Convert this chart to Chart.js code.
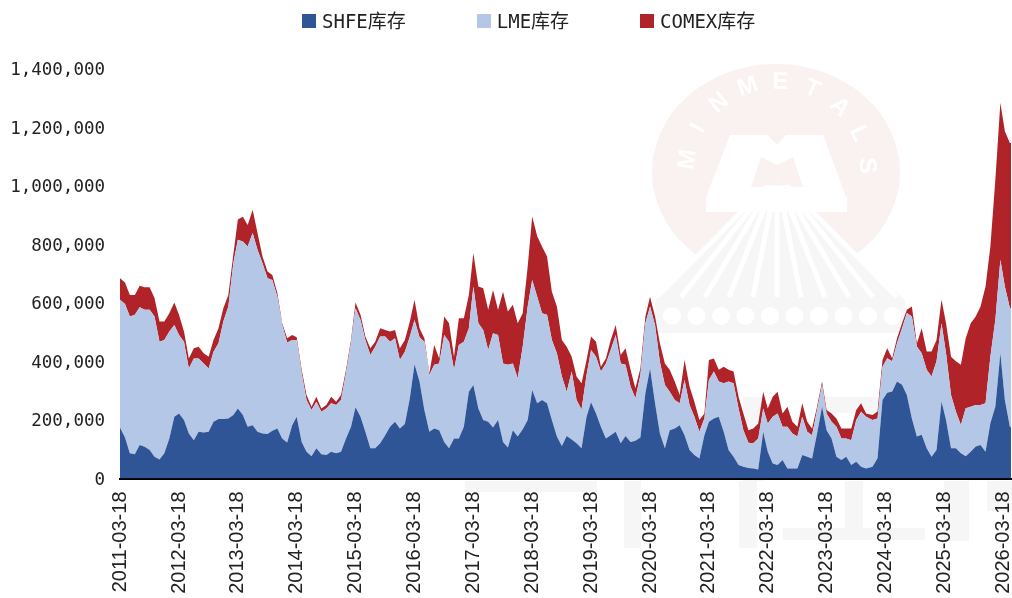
<!DOCTYPE html>
<html>
<head>
<meta charset="utf-8">
<script src="https://cdn.jsdelivr.net/npm/chart.js@4"></script>
<style>
	html, body { margin: 0; padding: 0; background: #fff; overflow: hidden; }
	#wrap { position: relative; width: 1012px; height: 598px; }
	#legend { position: absolute; left: 302px; top: 10px; display: flex; gap: 71px; font: 19px "DejaVu Sans Mono", "Noto Sans CJK SC"; color: #222; z-index: 2; }
	#legend div { display: flex; align-items: center; line-height: 22px; }
	#legend i { display: block; width: 14px; height: 14px; margin-right: 6px; }
</style>
</head>
<body>
<div id="wrap">
	<div id="legend"></div>
	<canvas id="stockChart" width="1012" height="598"></canvas>
</div>
<script>
// values in thousand tonnes
const shfe = [
	174,140,86,83,114,108,97,74,65,86,137,211,222,200,154,131,160,157,160,194,203,203,205,217,239,217,177,182,160,154,152,
	163,171,137,123,182,211,125,91,76,103,83,80,91,86,91,137,177,243,211,160,103,103,120,148,177,194,171,186,274,390,331,
	234,160,171,165,125,103,137,137,177,296,319,239,200,194,174,200,125,106,165,143,168,200,302,257,268,257,200,143,111,145,
	133,120,103,211,260,222,177,137,148,160,120,145,125,129,140,291,376,257,154,103,165,171,182,148,97,80,68,148,194,205,211,
	160,97,74,46,40,36,34,31,160,91,51,46,63,34,34,34,80,74,68,154,245,165,137,74,63,74,46,57,40,34,
	40,69,268,293,297,331,320,285,205,143,149,103,74,97,263,200,103,103,86,76,91,109,114,91,189,246,428,268,177,175
];
const lme = [
	436,456,467,476,471,468,479,479,402,387,365,313,268,267,222,279,250,236,216,239,259,333,382,518,576,592,615,656,621,581,532,
	515,450,387,341,291,262,234,177,158,159,145,159,166,165,177,222,285,338,330,313,319,347,365,337,290,285,234,247,211,151,151,
	233,193,217,228,365,364,234,319,290,217,337,291,307,245,322,290,268,282,228,199,282,387,376,364,296,302,273,285,237,151,
	232,148,133,142,179,194,188,256,291,330,273,243,189,145,213,239,211,267,245,216,131,97,75,188,154,131,92,57,142,160,120,
	165,234,251,193,125,86,86,106,79,97,160,176,114,143,120,109,131,86,80,80,74,57,57,103,74,63,85,143,188,177,
	160,136,114,118,103,131,193,280,348,308,279,268,274,303,267,228,182,126,97,164,154,142,137,166,227,296,319,388,405,405
];
const comex = [
	74,73,74,68,73,77,77,63,69,63,62,77,69,35,34,35,40,35,40,40,51,45,40,30,69,85,74,80,57,23,23,
	17,12,6,15,17,9,12,17,11,17,11,12,22,11,17,12,11,20,18,12,23,17,28,22,35,28,40,40,51,69,31,
	12,6,68,17,63,63,45,91,80,114,114,126,143,137,148,86,245,182,200,188,114,137,217,206,228,199,165,159,125,154,
	51,80,89,52,46,51,17,17,34,34,29,57,57,34,23,23,34,29,63,74,75,63,28,69,63,51,40,17,69,45,40,
	57,40,40,40,57,43,51,51,57,51,68,74,45,68,40,34,46,34,23,11,12,12,28,28,34,34,40,34,29,11,
	17,24,23,34,11,17,17,11,34,10,85,63,86,73,80,102,131,171,205,239,285,302,336,399,376,479,536,530,564,566
];
const seriesNames = [ 'SHFE库存', 'LME库存', 'COMEX库存' ];
const seriesColors = [ '#2F5597', '#B4C7E7', '#B02429' ];
const xTickLabels = [
	'2011-03-18', '2012-03-18', '2013-03-18', '2014-03-18', '2015-03-18', '2016-03-18', '2017-03-18', '2018-03-18',
	'2019-03-18', '2020-03-18', '2021-03-18', '2022-03-18', '2023-03-18', '2024-03-18', '2025-03-18', '2026-03-18'
];

// one date per sample, the last one is where the series stops
const dates = [];
for (let i = 0; i < 182; i++) {
	dates.push(Date.UTC(2011, 2 + i, i < 153 ? 18 : 28));
}
dates.push(Date.UTC(2026, 4, 5));

const toPoints = (values) => values.map((v, i) => ({ x: dates[i], y: v * 1000 }));

// legend
const legendBox = document.getElementById('legend');
seriesNames.forEach((name, i) => {
	const item = document.createElement('div');
	item.innerHTML = '<i style="background:' + seriesColors[i] + '"></i>' + name;
	legendBox.appendChild(item);
});

// faint company mark behind the chart
const watermark = {
	id: 'watermark',
	beforeDraw(chart) {
		const c = chart.ctx;
		c.save();

		c.fillStyle = '#faf1f1';
		c.beginPath();
		c.ellipse(776, 172, 124, 108, 0, 0, Math.PI * 2);
		c.fill();

		// the M
		c.fillStyle = '#fff';
		c.beginPath();
		c.moveTo(730, 135);
		c.lineTo(768, 135);
		c.lineTo(777, 145);
		c.lineTo(786, 135);
		c.lineTo(823, 135);
		c.lineTo(846, 197);
		c.lineTo(706, 197);
		c.closePath();
		c.fill();
		c.fillStyle = '#faf1f1';
		c.beginPath();
		c.moveTo(761, 157);
		c.lineTo(777, 165);
		c.lineTo(793, 157);
		c.lineTo(803, 187);
		c.lineTo(751, 187);
		c.closePath();
		c.fill();

		// letters round the ring
		const letters = 'MINMETALS';
		c.fillStyle = '#fff';
		c.font = 'bold 24px "Liberation Sans"';
		c.textAlign = 'center';
		c.textBaseline = 'middle';
		for (let i = 0; i < letters.length; i++) {
			const a = (-82 + i * 21) * Math.PI / 180;
			c.save();
			c.translate(777 + Math.sin(a) * 90, 172 - Math.cos(a) * 90);
			c.rotate(a);
			c.fillText(letters[i], 0, 0);
			c.restore();
		}

		// fan of rays and the base band
		c.fillStyle = '#f6f6f6';
		c.beginPath();
		c.moveTo(777, 180);
		c.lineTo(905, 300);
		c.lineTo(905, 333);
		c.lineTo(655, 333);
		c.lineTo(655, 300);
		c.closePath();
		c.fill();
		c.strokeStyle = '#fff';
		c.lineWidth = 5;
		for (let i = -5; i <= 5; i++) {
			c.beginPath();
			c.moveTo(777 + i * 2, 186);
			c.lineTo(777 + i * 24, 297);
			c.stroke();
		}
		c.fillStyle = '#fff';
		c.fillRect(706, 197, 141, 15);
		for (let i = 0; i < 10; i++) {
			c.beginPath();
			c.arc(672 + i * 24.5, 316, 9, 0, Math.PI * 2);
			c.fill();
		}

		// big grey strokes low on the page
		c.fillStyle = '#f6f6f6';
		c.fillRect(465, 481, 132, 11);
		c.fillRect(624, 481, 17, 67);
		c.fillRect(739, 481, 18, 67);
		c.fillRect(783, 528, 142, 12);
		c.fillRect(845, 481, 18, 50);
		c.fillRect(944, 481, 25, 60);
		c.fillRect(987, 481, 25, 30);
		c.fillRect(743, 397, 20, 84);
		c.fillRect(817, 397, 63, 16);

		c.restore();
	}
};

const stockChart = new Chart(document.getElementById('stockChart').getContext('2d'), {
	type: 'line',

	data: {
		datasets: [
			{
				label: seriesNames[0],
				data: toPoints(shfe),
				backgroundColor: seriesColors[0],
				fill: 'origin'
			},
			{
				label: seriesNames[1],
				data: toPoints(lme),
				backgroundColor: seriesColors[1],
				fill: '-1'
			},
			{
				label: seriesNames[2],
				data: toPoints(comex),
				backgroundColor: seriesColors[2],
				fill: '-1'
			}
		]
	},

	options: {
		responsive: false,
		animation: false,
		elements: {
			point: {
				radius: 0
			},
			line: {
				borderWidth: 0,
				tension: 0
			}
		},
		layout: {
			autoPadding: false,
			padding: { top: 68.5, right: 1, left: 0, bottom: 0 }
		},
		plugins: {
			legend: {
				display: false
			},
			tooltip: {
				enabled: false
			}
		},
		scales: {
			x: {
				type: 'linear',
				z: 1,
				min: dates[0],
				max: dates[dates.length - 1],
				afterBuildTicks: (axis) => {
					axis.ticks = xTickLabels.map((d) => ({ value: Date.parse(d) }));
				},
				afterFit: (axis) => {
					axis.height = 119.5;
					axis.paddingLeft = 0;
					axis.paddingRight = 0;
				},
				grid: {
					display: false,
					drawTicks: false
				},
				border: {
					color: '#000',
					width: 2
				},
				ticks: {
					autoSkip: false,
					minRotation: 90,
					maxRotation: 90,
					padding: 13,
					color: '#222',
					font: { family: '"Liberation Sans"', size: 20 },
					callback: function(value, index) {
						return xTickLabels[index];
					}
				}
			},
			y: {
				stacked: true,
				min: 0,
				max: 1400000,
				afterFit: (axis) => {
					axis.width = 120;
					axis.paddingTop = 0;
					axis.paddingBottom = 0;
				},
				grid: {
					display: false,
					drawTicks: false
				},
				border: {
					display: false
				},
				ticks: {
					stepSize: 200000,
					padding: 15,
					labelOffset: 2,
					color: '#222',
					font: { family: '"DejaVu Sans Mono"', size: 17.5 },
					callback: function(value) {
						return value.toLocaleString('en-US');
					}
				}
			}
		}
	},

	plugins: [ watermark ]
});
</script>
</body>
</html>
